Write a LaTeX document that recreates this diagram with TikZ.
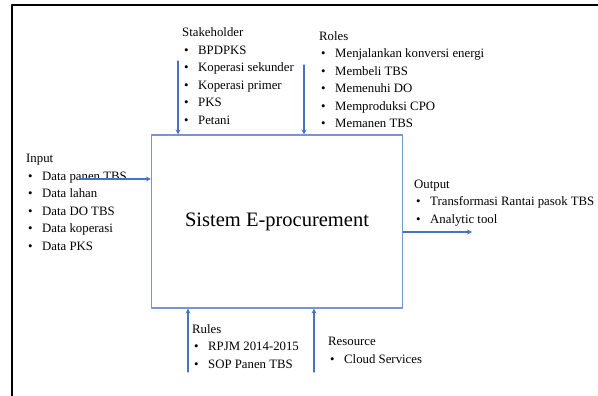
\documentclass[tikz,border=0pt]{standalone}
\usepackage{fontspec}
\setmainfont{Liberation Serif}
\definecolor{arrowblue}{RGB}{68,114,196}
\definecolor{boxblue}{RGB}{120,150,205}
\newcommand{\bitem}[1]{\hspace*{2pt}\makebox[14pt][l]{\textbullet}#1}
\begin{document}
\begin{tikzpicture}[x=1pt, y=-1pt, line cap=round, line join=round, >=stealth,
    font=\fontsize{12.8}{17.5}\selectfont]
	\tikzset{flow/.style={->, arrowblue, line width=1.2pt},
		list/.style={anchor=north west, inner sep=0pt, align=left}}
	\useasboundingbox (0,0) rectangle (598,396);
	\draw[line width=2pt] (12,396)--(12,5)--(598,5);
	\node[draw=boxblue, line width=1.2pt, minimum width=251pt, minimum height=173pt,
		font=\fontsize{20.5}{24}\selectfont] (sys) at (277,221.5) {Sistem E-procurement};
	\node[list] (stk) at (182,27.5) {Stakeholder\\ \bitem{BPDPKS}\\ \bitem{Koperasi sekunder}\\
		\bitem{Koperasi primer}\\ \bitem{PKS}\\ \bitem{Petani}};
	\node[list] (rol) at (319,31) {Roles\\ \bitem{Menjalankan konversi energi}\\ \bitem{Membeli TBS}\\
		\bitem{Memenuhi DO}\\ \bitem{Memproduksi CPO}\\ \bitem{Memanen TBS}};
	\node[list] (inp) at (26,154) {Input\\ \bitem{Data panen TBS}\\ \bitem{Data lahan}\\
		\bitem{Data DO TBS}\\ \bitem{Data koperasi}\\ \bitem{Data PKS}};
	\node[list] (out) at (414,179.5) {Output\\ \bitem{Transformasi Rantai pasok TBS}\\ \bitem{Analytic tool}};
	\node[list] (rul) at (192,324) {Rules\\ \bitem{RPJM 2014-2015}\\ \bitem{SOP Panen TBS}};
	\node[list] (res) at (328,337) {Resource\\ \bitem{Cloud Services}};
	\coordinate (stk-end) at (178,61);
	\coordinate (rol-end) at (304,65);
	\coordinate (inp-end) at (80,179);
	\coordinate (out-end) at (472,232);
	\coordinate (rul-end) at (188,372);
	\coordinate (res-end) at (314,372);
	\draw[flow] (stk-end) -- (stk-end |- sys.north);
	\draw[flow] (rol-end) -- (rol-end |- sys.north);
	\draw[flow] (inp-end) -- (inp-end -| sys.west);
	\draw[flow] (out-end -| sys.east) -- (out-end);
	\draw[flow] (rul-end) -- (rul-end |- sys.south);
	\draw[flow] (res-end) -- (res-end |- sys.south);
\end{tikzpicture}
\end{document}
